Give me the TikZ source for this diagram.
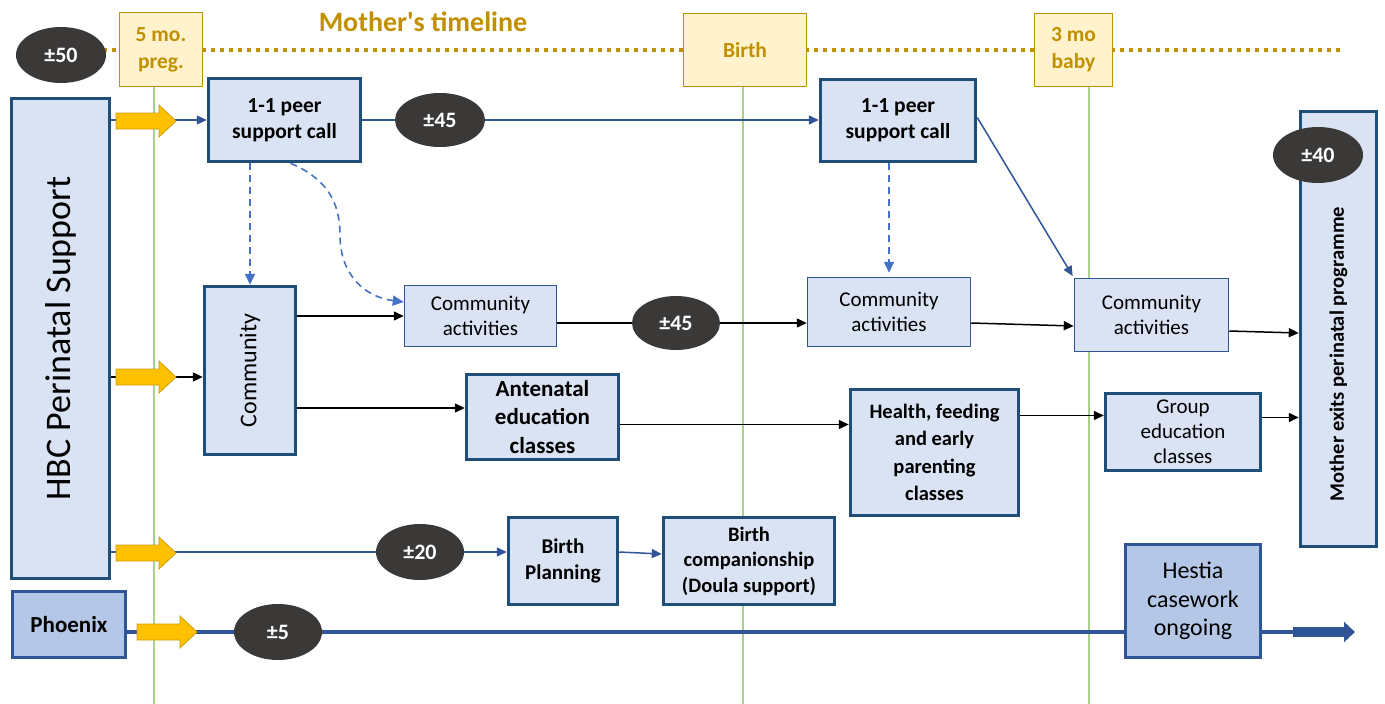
\documentclass[tikz,border=0pt]{standalone}
\usepackage{fontspec}
\setmainfont{Carlito}[Ligatures=TeXOff]
\usetikzlibrary{arrows.meta,shapes.geometric}
\definecolor{boxfill}{HTML}{DAE3F3}
\definecolor{boxdraw}{HTML}{1F4E79}
\definecolor{darkfill}{HTML}{B4C7E7}
\definecolor{midblue}{HTML}{2F5597}
\definecolor{dashblue}{HTML}{4472C4}
\definecolor{tlfill}{HTML}{FFF2CC}
\definecolor{tldraw}{HTML}{BF9000}
\definecolor{tltext}{HTML}{C09000}
\definecolor{ovalfill}{HTML}{3B3838}
\definecolor{yarrowc}{HTML}{FFC000}
\definecolor{yarrowd}{HTML}{C9A000}
\definecolor{greenline}{HTML}{A9D18E}
\newcommand\fsz[2]{\fontsize{#1}{#2}\selectfont}
\tikzset{
  thickbox/.style={draw=boxdraw, fill=boxfill, line width=3.5pt, inner sep=0pt, align=center},
  thinbox/.style={draw=midblue, fill=boxfill, line width=1.5pt, inner sep=0pt, align=center},
  darkbox/.style={thickbox, fill=darkfill, draw=midblue},
  tlbox/.style={draw=tldraw, fill=tlfill, line width=1.2pt, inner sep=0pt, align=center, text=tltext, font=\bfseries\fsz{21.5}{27}},
  oval/.style={ellipse, fill=ovalfill, text=white, font=\bfseries\fsz{22}{26}, inner sep=0pt},
  blk/.style={-{Triangle[length=10pt,width=9pt]}, line width=1.5pt, black},
  blu/.style={-{Triangle[length=10pt,width=9pt]}, line width=1.5pt, midblue},
  dsh/.style={-{Triangle[length=11pt,width=10pt]}, line width=1.6pt, dashblue, dash pattern=on 7pt off 5pt},
  gline/.style={greenline, line width=1.2pt},
  tldots/.style={tldraw, line width=3.5pt, dash pattern=on 4pt off 5pt},
  yarr/.pic={\draw[draw=yarrowd, fill=yarrowc, line width=0.8pt] (0,-8) -- (43,-8) -- (43,-16) -- (60,0) -- (43,16) -- (43,8) -- (0,8) -- cycle;}
}
\begin{document}
\begin{tikzpicture}[x=1pt,y=-1pt]
\useasboundingbox (0,0) rectangle (1385,704);

% timeline
\coordinate (tlstart) at (103,50);
\coordinate (tlend) at (1340,50);
\draw[tldots] (tlstart) -- (tlend);
\node[tlbox, minimum width=83, minimum height=74] (t5) at (161,49.5) {5 mo.\\preg.};
\node[tlbox, minimum width=123, minimum height=73] (tbirth) at (745,50) {Birth};
\node[tlbox, minimum width=78, minimum height=73] (t3) at (1073.5,50) {3 mo\\baby};
\node[text=tltext, font=\bfseries\fsz{28}{32}] (title) at (423,22) {Mother's timeline};

% green vertical lines
\coordinate (g1b) at (154,704);
\coordinate (g2b) at (743,704);
\coordinate (g3b) at (1089,704);
\draw[gline] (g1b |- t5.south) -- (g1b);
\draw[gline] (g2b |- tbirth.south) -- (g2b);
\draw[gline] (g3b |- t3.south) -- (g3b);

% ovals
\node[oval, minimum width=90, minimum height=56] (o50) at (61,55) {±50};
\node[oval, minimum width=90, minimum height=54] (o45a) at (440,120) {±45};
\node[oval, minimum width=88, minimum height=54] (o45b) at (676,323) {±45};
\node[oval, minimum width=88, minimum height=56] (o20) at (420,552) {±20};
\node[oval, minimum width=88, minimum height=56] (o5) at (278,632) {±5};

% boxes
\node[thickbox, minimum width=98, minimum height=480] (hbc) at (60.5,338.5) {};
\node[rotate=90, font=\fsz{36}{40}] (hbctext) at (hbc.center) {HBC Perinatal Support};
\node[thickbox, minimum width=152, minimum height=83, font=\bfseries\fsz{21.5}{26}] (peer1) at (284.5,120) {1-1 peer\\support call};
\node[thickbox, minimum width=155, minimum height=82, font=\bfseries\fsz{21.5}{26}] (peer2) at (898,120.5) {1-1 peer\\support call};
\node[thickbox, minimum width=91, minimum height=168] (comm) at (250,370.5) {};
\node[rotate=90, font=\fsz{24}{28}] (commtext) at (comm.center) {Community};
\node[thinbox, minimum width=152, minimum height=61, font=\fsz{21}{25}] (ca1) at (480.5,316) {Community\\activities};
\node[thinbox, minimum width=163, minimum height=69, font=\fsz{21}{25}] (ca2) at (889,312) {Community\\activities};
\node[thinbox, minimum width=154, minimum height=73, font=\fsz{21}{25}] (ca3) at (1151.5,315) {Community\\activities};
\node[thickbox, minimum width=76, minimum height=435] (exits) at (1338.5,329) {};
\coordinate (exitsmid) at (1338.5,354);
\node[rotate=90, font=\bfseries\fsz{20.5}{24}] (exitstext) at (exitsmid) {Mother exits perinatal programme};
\node[oval, minimum width=90, minimum height=56] (o40) at (1318,155) {±40};
\node[thickbox, minimum width=152, minimum height=85, font=\bfseries\fsz{23}{28.5}] (ante) at (542.5,417) {Antenatal\\education\\classes};
\node[thickbox, minimum width=168, minimum height=126, font=\bfseries\fsz{20.5}{27.3}] (health) at (934.5,452.5) {Health, feeding\\and early\\parenting\\classes};
\node[thickbox, minimum width=155, minimum height=77, font=\fsz{21}{25}] (group) at (1183,432) {Group\\education\\classes};
\node[thickbox, minimum width=109, minimum height=87, font=\bfseries\fsz{21}{26}] (bplan) at (563,561) {Birth\\Planning};
\node[thickbox, minimum width=171, minimum height=87, font=\bfseries\fsz{20.5}{25.5}] (bcomp) at (749,561) {Birth\\companionship\\(Doula support)};
\node[darkbox, minimum width=113, minimum height=66, font=\bfseries\fsz{23}{27}] (phoenix) at (69,624.5) {Phoenix};
\node[darkbox, minimum width=135, minimum height=113, font=\fsz{24}{28.5}] (hestia) at (1193,601) {Hestia\\casework\\ongoing};

% row coordinates
\coordinate (r2) at (0,377);
\coordinate (r3) at (0,408);
\coordinate (r4) at (0,424.5);
\coordinate (r5) at (0,415.5);
\coordinate (r6) at (0,417.5);
\coordinate (r7) at (0,333);
\coordinate (r8) at (0,554);
\coordinate (endbase) at (1293,632);
\coordinate (endtip) at (1355,632);

% connectors
\draw[blu] (hbc.east |- peer1) -- (peer1.west);
\draw[blu, -] (peer1.east) -- (o45a.west);
\draw[blu] (o45a.east) -- (peer2.west |- o45a);
\draw[dsh] (comm.north |- peer1.south) -- (comm.north);
\draw[dsh] ([xshift=6pt]peer1.south) .. controls (325,178) and (340,200) .. (340,235) .. controls (340,275) and (365,297) .. ([yshift=14pt]ca1.west);
\draw[dsh] (ca2.north |- peer2.south) -- ([yshift=4pt]ca2.north);
\draw[blu, shorten >=2pt] ([yshift=3pt]peer2.east) -- (ca3.north west);
\draw[blk] (hbc.east |- r2) -- (comm.west |- r2);
\draw[blk] (comm.east |- ca1.west) -- (ca1.west);
\draw[blk, -] (ca1.east |- o45b) -- (o45b.west);
\draw[blk] (o45b.east) -- (ca2.west |- o45b);
\draw[blk] (ca2.east |- o45b) -- ([yshift=-11pt]ca3.west);
\draw[blk] ([yshift=-16pt]ca3.east) -- (exits.west |- r7);
\draw[blk] (comm.east |- r3) -- (ante.west |- r3);
\draw[blk] (ante.east |- r4) -- (health.west |- r4);
\draw[blk] (health.east |- r5) -- (group.west |- r5);
\draw[blk] (group.east |- r6) -- (exits.west |- r6);
\draw[blu, -] (hbc.east |- o20) -- (o20.west);
\draw[blu] (o20.east) -- (bplan.west |- o20);
\draw[blu] (bplan.east |- o20) -- (bcomp.west |- r8);
\draw[midblue, line width=3.5pt] (phoenix.east |- o5) -- (o5.west);
\draw[midblue, line width=3.5pt] (o5.east) -- (hestia.west |- o5);
\draw[midblue, line width=3.5pt] (hestia.east |- o5) -- (endbase);
\draw[midblue, line width=10pt, -{Triangle[length=11pt,width=20pt]}] (endbase) -- (endtip);

% yellow block arrows
\pic at (116,121) {yarr};
\pic at (116,377) {yarr};
\pic at (116,553) {yarr};
\pic at (137,632) {yarr};
\end{tikzpicture}
\end{document}
